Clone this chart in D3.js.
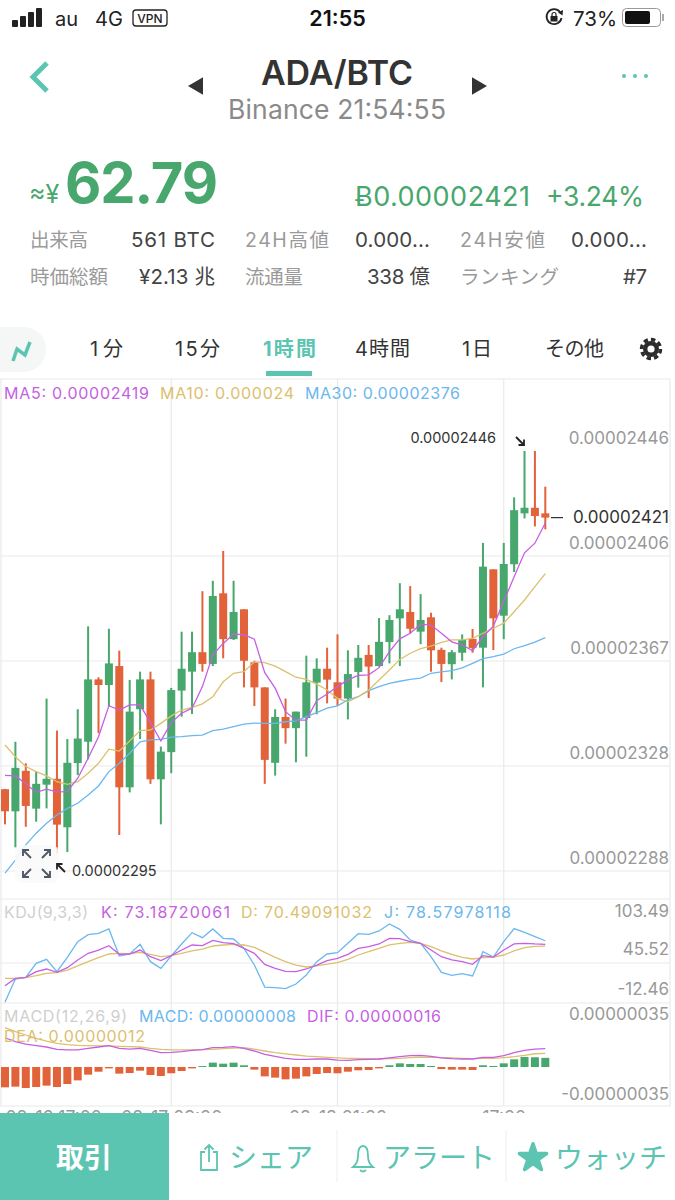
<!DOCTYPE html>
<html lang="ja">
<head>
<meta charset="utf-8">
<title>ADA/BTC</title>
<script src="https://cdn.jsdelivr.net/npm/d3@7"></script>
<style>
  html, body { margin: 0; padding: 0; background: #fff; }
  svg { display: block; }
  text { font-family: Inter, "Noto Sans CJK JP", "DejaVu Sans", sans-serif; }
  .axis .domain, .axis .tick line { display: none; }
</style>
</head>
<body>
<script>
// Hourly candles in satoshi (1e-8 BTC)
const opens = [2319.1,2310.8,2326,2311.8,2320.8,2323,2304.8,2328.9,2336.9,2360.3,2358.2,2365.3,2319.8,2349.1,2360.3,2322.8,2333,2356.1,2363.2,2370.5,2366.1,2392.6,2375.4,2386.6,2366.7,2357.3,2329,2346.2,2342,2345.8,2359.1,2364.3,2359.2,2353.1,2363.1,2369.5,2365.3,2374.3,2383.2,2385.6,2378.2,2383.6,2371.4,2366,2370.3,2375.5,2372.2,2401.6,2384.2,2403.5,2422.6,2424.7,2422.6];
const highs = [2319.2,2336.9,2328.8,2325.7,2353.1,2341.1,2337.9,2349.1,2380.2,2361.1,2379.3,2371.1,2360.1,2363.2,2363.2,2335.1,2357.1,2378.2,2378.2,2393.4,2397.3,2408.5,2397.3,2386.6,2367.3,2357.3,2349.1,2353.1,2348.2,2369.2,2368.2,2372.2,2377.2,2371.2,2373.2,2373.2,2383.3,2384.4,2396.4,2395.3,2392.3,2385.3,2372.2,2371.3,2377.2,2379.2,2411.5,2401.6,2411.5,2428.6,2446,2446,2432.6];
const lows = [2305.9,2297.3,2305,2306.9,2311.9,2295,2295.5,2324.4,2330.3,2340.1,2350.1,2301.9,2317.9,2337.9,2321.1,2305.9,2325.1,2346.3,2347.3,2363.2,2365.3,2368.2,2375.1,2357.3,2350.3,2321.1,2324.2,2336.2,2329.2,2331.3,2347.2,2351.3,2350.4,2345.3,2357.2,2353.3,2365.1,2366.3,2365.3,2377.6,2373.5,2363.2,2359.3,2360.3,2367.3,2370.3,2357.3,2371.3,2375.4,2400.6,2420.7,2417.7,2416.6];
const closes = [2310.8,2327.1,2312.8,2321.1,2323,2305.8,2329,2338.1,2360.3,2358.2,2366.3,2319.8,2348.2,2360.3,2322.8,2333.2,2356.3,2364.3,2370.5,2366.1,2391.6,2375.4,2385.6,2367.3,2357.3,2330.1,2346.2,2342,2348.2,2359.2,2364.3,2360.2,2353.1,2362.3,2368.4,2365.1,2374.4,2382.6,2386.6,2379.3,2382.6,2371.2,2366.1,2370.5,2375.1,2372.1,2402.6,2383.2,2403.6,2423.8,2424.7,2421.6,2421];

// Moving averages
const ma5 = [2324.3,2324.1,2321.1,2317.9,2319.1,2318.1,2318.2,2323.2,2330.7,2338.8,2350.4,2348.8,2350.7,2350.7,2344.1,2337.2,2344.1,2347.6,2349.5,2357.6,2369.5,2373.8,2377.3,2377.1,2375.4,2362.8,2357,2348.2,2345,2345,2352.3,2354.8,2357.6,2360.1,2361.8,2362,2364.7,2370.7,2375.5,2377.6,2381,2380.7,2377.6,2374.4,2373.2,2371.1,2376.3,2380.3,2389.5,2398.8,2407.8,2411.4,2419];
const ma10 = [2335.7,2331.3,2327.6,2325.7,2324.1,2321.9,2320.9,2321.9,2325.1,2328.8,2334.1,2333.4,2337.2,2341.1,2341.3,2343.8,2346.6,2348.8,2349.8,2351.1,2353.8,2359.4,2362.6,2363.2,2366.9,2366.6,2365.3,2363.2,2361.1,2360.3,2358.5,2356.3,2353.2,2351.9,2353.8,2356.3,2360.1,2363.8,2367.8,2370.1,2371.8,2372.8,2374.2,2375.1,2375.1,2375.7,2377.6,2379.5,2381.4,2385.7,2390.1,2395.1,2400];
const ma30 = [2287.6,2292.5,2298.2,2302.6,2306.3,2309.4,2311.9,2313.8,2316.9,2320.3,2325.7,2328.8,2332.6,2336.9,2337.6,2337.8,2338.6,2338.8,2339.2,2339.4,2341.1,2341.6,2342.6,2343.5,2343.9,2343.8,2343.8,2344.4,2344.7,2346.3,2347.8,2349.5,2350.4,2352.6,2353.8,2356.1,2357.6,2358.8,2359.6,2360.3,2360.8,2362.6,2363.1,2363.6,2364.6,2366.3,2368.1,2368.8,2369.8,2371.8,2373,2374.3,2376];

// KDJ oscillator
const kdjK = [11.8,22.7,24.2,32.6,36.6,31.6,38.6,50,59.9,64.8,71.3,58.4,58.9,64.8,54.9,49,56.4,64.8,72.3,71.3,79.2,75.7,74.3,67.3,59.9,43.5,37.6,33.1,32.6,36.6,42.5,49,52.5,58.4,67.3,69.8,73.8,82.2,81.7,77.2,74.8,64.8,54.9,50,47.5,43.5,56.4,54.4,64.8,73.8,74.8,73.8,73.19];
const kdjD = [22.7,22.7,23.7,26.7,30.2,31.2,35.1,41.1,47.5,53.4,58.9,59.9,59.4,61.4,58.4,54.9,56.4,59.9,63.4,66.3,70.8,72.3,73.3,72.3,68.8,61.4,53.9,47.5,42.5,39.6,41.1,44,46,51,57.4,62.4,67.3,72.3,74.8,76.2,74.8,69.8,63.4,58.4,53.9,51.5,53.4,54.4,57.4,63.4,68.3,70.3,70.49];
const kdjJ = [-12.46,21.7,24.2,45,51,32.6,53.9,77.2,87.6,89.6,96.1,55.9,58.9,73.3,47.5,37.6,55.9,73.8,90.6,83.2,96.1,82.2,81.2,67.3,42.5,9.8,8.9,7.4,14.3,27.7,47.5,58.9,60.9,74.8,89.1,88.1,93.1,103.49,95.6,79.7,74.8,54.9,31.6,27.2,29.7,26.2,62.4,54.4,77.2,96.6,91.1,84.7,78.58];

// MACD in satoshi
const macdBars = [-17.8,-17.2,-18.4,-17.5,-16.3,-17.5,-14.9,-11.7,-6.7,-4.1,-1.2,-5.8,-5.3,-3.2,-7,-7.9,-5.5,-3.5,-1.2,0.8,3.8,2.9,3.8,1.5,-2.3,-8.2,-9.3,-10.8,-10.2,-8.2,-6.1,-5.3,-5.5,-4.1,-2.9,-2.6,-1.2,1.5,3.2,2.6,2.6,0.9,-1.8,-2.3,-2.3,-2.6,1.5,0.9,3.2,6.7,8.8,8.5,8];
const dif = [25.6,22.2,20.1,18.7,17.5,15.4,14.9,14.9,16.3,17.5,18.7,16.3,15.7,16.3,14.6,12.5,12.8,13.4,14.6,15.2,16.9,17.2,17.8,16.3,14,11.1,9.3,7.6,6.7,6.7,7,7,6.1,5.8,6.4,6.7,7,7.9,9,9.9,10.2,9.3,7.9,7.3,7,7,8.4,8.4,9.9,12.5,14.6,15.7,16];
const dea = [34.4,30.9,28,25.1,22.7,20.7,19.5,18.9,18.7,18.4,18.4,18.1,17.8,17.5,16.3,15.4,14.9,14.9,14.9,15.2,15.4,16,16.6,16.9,15.7,14,12.5,11.4,10.5,9.6,9,8.4,7.9,7.6,7.6,7.3,7,7.3,7.6,8.2,8.7,8.4,8.2,7.9,7.6,7.3,7.6,7.6,8.2,9,10.2,11.6,12];

// Axis ticks
const priceTicks = [2446, 2406.6, 2367.2, 2327.8, 2288.4];
const priceTickLabels = ["0.00002446", "0.00002406", "0.00002367", "0.00002328", "0.00002288"];
const kdjTicks = [103.49, 45.52, -12.46];
const macdTicks = [35, -35];
const macdTickLabels = ["0.00000035", "-0.00000035"];
const timeTicks = [0, 16, 32, 48];
const timeTickLabels = ["08-16 17:00", "08-17 09:00", "08-18 01:00", "17:00"];

// Header strings
const statsTop = ["出来高", "561 BTC", "24H高値", "0.000...", "24H安値", "0.000..."];
const statsBottom = ["時価総額", "¥2.13 兆", "流通量", "338 億", "ランキング", "#7"];
const tabLabels = ["1分", "15分", "1時間", "4時間", "1日", "その他"];

const GREEN = "#47a76c", RED = "#e2623a", TEAL = "#5cc5b1";
const PURPLE = "#c65fe2", GOLD = "#dcc06e", BLUE = "#6bb7ee";
const GREY = "#9a9a9a", DARK = "#444";
const W = 675, H = 1200, candleCount = opens.length;

const svg = d3.select("body").append("svg").attr("width", W).attr("height", H);

// Places one text; `len` fixes its advance width when given.
function label(parent, x, y, str, size, fill, anchor = "start", weight = 400, len = null) {
  const t = parent.append("text").attr("x", x).attr("y", y)
    .attr("font-size", size).attr("fill", fill)
    .attr("text-anchor", anchor).attr("font-weight", weight).text(str);
  if (len) t.attr("textLength", len);
  return t;
}

// Scales
const x = d3.scaleLinear().domain([0, candleCount - 1]).range([5, 545.3]);
const yPrice = d3.scaleLinear().domain([2288.4, 2446]).range([871, 451]);
const yKdj = d3.scaleLinear().domain([-12.46, 103.49]).range([1002, 924]);
const yMacd = d3.scaleLinear().domain([-35, 35]).range([1107, 1027]);

// Status bar
const status = svg.append("g");
status.selectAll("rect.sig").data([0, 1, 2, 3]).join("rect").attr("class", "sig")
  .attr("x", d => 12 + d * 8).attr("width", 6)
  .attr("y", d => 20 - d * 4).attr("height", d => 7 + d * 4).attr("rx", 1).attr("fill", "#222");
label(status, 55, 26, "au", 20, "#222");
label(status, 95, 26, "4G", 20, "#222");
status.append("rect").attr("x", 133).attr("y", 10).attr("width", 34).attr("height", 16).attr("rx", 3)
  .attr("fill", "none").attr("stroke", "#222").attr("stroke-width", 1.3);
label(status, 150, 23, "VPN", 12, "#222", "middle", 500);
label(status, 337.5, 26, "21:55", 21.5, "#111", "middle", 600);
status.append("path").attr("d", "M560 12 A7.5 7.5 0 1 0 561.5 18").attr("fill", "none").attr("stroke", "#222").attr("stroke-width", 1.8);
status.append("path").attr("d", "M558 12.5 L563 10 L562.5 15.5 Z").attr("fill", "#222");
status.append("rect").attr("x", 550.5).attr("y", 16).attr("width", 7).attr("height", 5.5).attr("fill", "#222");
status.append("path").attr("d", "M552 16 V14.5 A2 2 0 0 1 556 14.5 V16").attr("fill", "none").attr("stroke", "#222").attr("stroke-width", 1.2);
label(status, 573, 26, "73%", 20.5, "#222");
status.append("rect").attr("x", 622.5).attr("y", 8.5).attr("width", 38).attr("height", 18).attr("rx", 4).attr("fill", "none").attr("stroke", "#999");
status.append("rect").attr("x", 625).attr("y", 11).attr("width", 25).attr("height", 13).attr("rx", 2).attr("fill", "#111");
status.append("rect").attr("x", 662).attr("y", 14).attr("width", 2).attr("height", 7).attr("fill", "#aaa");

// Navigation header
svg.append("path").attr("d", "M47 63 L33 77 L47 91").attr("fill", "none").attr("stroke", TEAL).attr("stroke-width", 5);
label(svg, 337, 85, "ADA/BTC", 34, "#333", "middle", 600, 152);
label(svg, 337, 119, "Binance 21:54:55", 26.5, "#8a8a8a", "middle", 400, 218);
svg.append("path").attr("d", d3.symbol(d3.symbolTriangle, 130)).attr("transform", "translate(198,86) rotate(-90)").attr("fill", "#333");
svg.append("path").attr("d", d3.symbol(d3.symbolTriangle, 130)).attr("transform", "translate(477,86) rotate(90)").attr("fill", "#333");
svg.selectAll("circle.dot").data([624, 635, 646]).join("circle").attr("class", "dot")
  .attr("cx", d => d).attr("cy", 76).attr("r", 2).attr("fill", TEAL);

// Price block
label(svg, 29, 203, "≈¥", 25, GREEN);
label(svg, 65, 203, "62.79", 56, GREEN, "start", 700, 153);
label(svg, 355, 206, "Ƀ0.00002421", 27, GREEN, "start", 400, 175);
label(svg, 546, 206, "+3.24%", 26.5, GREEN, "start", 400, 98);

// Two rows of market figures: caption, value, caption, value, caption, value
const statX = [30, 215, 245, 430, 460, 647];
const statTopWidths = [58, 84, 84, 75, 85, 76];
const statBottomWidths = [78, 76, 58, 63, 99, 24];
function statRow(strings, y, widths) {
  strings.forEach((s, i) => {
    const isValue = i % 2 === 1;
    label(svg, statX[i], y, s, isValue ? 20.5 : 19.5, isValue ? DARK : GREY, isValue ? "end" : "start", 400, widths[i]);
  });
}
statRow(statsTop, 247, statTopWidths);
statRow(statsBottom, 284, statBottomWidths);

// Interval tabs
const tabCentres = [106.5, 197.5, 289.5, 382.5, 477, 574.5];
const tabWidths = [33, 45, 53, 55, 30, 59];
svg.append("rect").attr("x", -22).attr("y", 327).attr("width", 68).attr("height", 45).attr("rx", 22).attr("fill", "#f5f6f6");
svg.append("path").attr("d", "M13 361 L17 349 L25 355 L30 342").attr("fill", "none").attr("stroke", TEAL).attr("stroke-width", 3.5);
tabLabels.forEach((s, i) => label(svg, tabCentres[i], 356, s, 20, i === 2 ? TEAL : "#333", "middle", i === 2 ? 700 : 400, tabWidths[i]));
svg.append("rect").attr("x", 266).attr("y", 371).attr("width", 46).attr("height", 5).attr("fill", TEAL);
svg.append("circle").attr("cx", 651).attr("cy", 349).attr("r", 8).attr("fill", "#2d2d2d");
svg.append("circle").attr("cx", 651).attr("cy", 349).attr("r", 9.5).attr("fill", "none").attr("stroke", "#2d2d2d").attr("stroke-width", 3.5).attr("stroke-dasharray", "4.4 3");
svg.append("circle").attr("cx", 651).attr("cy", 349).attr("r", 3.6).attr("fill", "#fff");

// Pane frames and gridlines
const grid = svg.append("g").attr("stroke", "#e9e9e9").attr("stroke-width", 1.2);
[379, 899, 1003, 1106].forEach(y => grid.append("line").attr("x1", 0).attr("x2", 670).attr("y1", y).attr("y2", y));
grid.selectAll("line.px").data(priceTicks.slice(1)).join("line").attr("class", "px")
  .attr("x1", 0).attr("x2", 670).attr("y1", d => yPrice(d)).attr("y2", d => yPrice(d));
grid.append("line").attr("x1", 0).attr("x2", 670).attr("y1", yKdj(45.52)).attr("y2", yKdj(45.52));
grid.selectAll("line.tx").data(timeTicks.slice(1)).join("line").attr("class", "tx")
  .attr("x1", d => x(d)).attr("x2", d => x(d)).attr("y1", 379).attr("y2", 1106);
[1, 670].forEach(v => grid.append("line").attr("x1", v).attr("x2", v).attr("y1", 379).attr("y2", 1106));

// Right-hand value axes
function rightAxis(scale, ticks, labels, dy, fill = "#999") {
  const g = svg.append("g").attr("class", "axis").attr("transform", "translate(669,0)")
    .call(d3.axisRight(scale).tickValues(ticks).tickSize(0).tickPadding(0).tickFormat((d, i) => labels[i]));
  g.selectAll("text").attr("font-size", 17).attr("fill", fill).attr("text-anchor", "end")
    .attr("dy", dy).style("font-family", null);
  g.attr("font-family", null);
}
rightAxis(yPrice, priceTicks, priceTickLabels, -8);
rightAxis(yKdj, kdjTicks, kdjTicks.map(d => d.toFixed(2)), -8);
rightAxis(yMacd, macdTicks, macdTickLabels, -8);

// Candles
const candles = d3.range(candleCount).map(i => ({ i, o: opens[i], h: highs[i], l: lows[i], c: closes[i] }));
const isUp = d => d.c >= d.o;
const candleG = svg.append("g").selectAll("g").data(candles).join("g").attr("fill", d => isUp(d) ? GREEN : RED);
candleG.append("rect").attr("x", d => x(d.i) - 1).attr("width", 2)
  .attr("y", d => yPrice(d.h)).attr("height", d => yPrice(d.l) - yPrice(d.h));
candleG.append("rect").attr("x", d => x(d.i) - 4).attr("width", 8)
  .attr("y", d => yPrice(Math.max(d.o, d.c))).attr("height", d => Math.abs(yPrice(d.o) - yPrice(d.c)));

// Moving-average and oscillator lines
function drawLine(values, scale, colour, width = 1.3) {
  svg.append("path").datum(values)
    .attr("d", d3.line().x((d, i) => x(i)).y(d => scale(d)))
    .attr("fill", "none").attr("stroke", colour).attr("stroke-width", width);
}
drawLine(ma30, yPrice, BLUE);
drawLine(ma10, yPrice, GOLD);
drawLine(ma5, yPrice, PURPLE);
drawLine(kdjJ, yKdj, BLUE);
drawLine(kdjD, yKdj, GOLD);
drawLine(kdjK, yKdj, PURPLE);

// MACD histogram
svg.append("g").selectAll("rect").data(macdBars).join("rect")
  .attr("x", (d, i) => x(i) - 4).attr("width", 8)
  .attr("y", d => yMacd(Math.max(d, 0))).attr("height", d => Math.abs(yMacd(d) - yMacd(0)))
  .attr("fill", d => d >= 0 ? GREEN : RED);
drawLine(dea, yMacd, GOLD);
drawLine(dif, yMacd, PURPLE);

// Indicator legends
label(svg, 4, 398.5, "MA5: 0.00002419", 16, PURPLE, "start", 400, 145);
label(svg, 160, 398.5, "MA10: 0.000024", 16, GOLD, "start", 400, 134);
label(svg, 305, 398.5, "MA30: 0.00002376", 16, BLUE, "start", 400, 155);
label(svg, 4, 918, "KDJ(9,3,3)", 16, "#cfcfcf", "start", 400, 84);
label(svg, 101, 918, "K: 73.18720061", 16, PURPLE, "start", 400, 129);
label(svg, 241, 918, "D: 70.49091032", 16, GOLD, "start", 400, 131);
label(svg, 384, 918, "J: 78.57978118", 16, BLUE, "start", 400, 127);
label(svg, 4, 1021.5, "MACD(12,26,9)", 16, "#cfcfcf", "start", 400, 123);
label(svg, 139, 1021.5, "MACD: 0.00000008", 16, BLUE, "start", 400, 157);
label(svg, 307, 1021.5, "DIF: 0.00000016", 16, PURPLE, "start", 400, 134);
label(svg, 4, 1041.5, "DEA: 0.00000012", 16, GOLD, "start", 400, 141);

// Expand-chart control
svg.append("rect").attr("x", 15).attr("y", 845).attr("width", 44).attr("height", 38).attr("rx", 8).attr("fill", "#fafafa").attr("opacity", 0.9);
svg.append("path")
  .attr("d", "M23 850 L31 858 M23 856 V850 H29 M50 850 L42 858 M44 850 H50 V856 M23 877 L31 869 M23 871 V877 H29 M50 877 L42 869 M44 877 H50 V871")
  .attr("fill", "none").attr("stroke", "#4f5866").attr("stroke-width", 1.9);

// High, low and last-price markers
label(svg, 496, 443, "0.00002446", 14.5, "#333", "end");
svg.append("path").attr("d", "M516 437 L524 445 M524 439.5 V445 H518.5").attr("fill", "none").attr("stroke", "#222").attr("stroke-width", 1.8);
label(svg, 72, 876, "0.00002295", 14.5, "#333");
svg.append("path").attr("d", "M65 872 L57 864 M57 869.5 V864 H62.5").attr("fill", "none").attr("stroke", "#222").attr("stroke-width", 1.8);
svg.append("line").attr("x1", 551).attr("x2", 563).attr("y1", yPrice(2421)).attr("y2", yPrice(2421)).attr("stroke", "#333").attr("stroke-width", 1.2);
label(svg, 669, 523, "0.00002421", 17, "#333", "end");

// Time axis, partly hidden by the action bar
const timeAxis = svg.append("g").attr("class", "axis").attr("transform", "translate(0,1106)")
  .call(d3.axisBottom(x).tickValues(timeTicks).tickSize(0).tickPadding(5).tickFormat((d, i) => timeTickLabels[i]));
timeAxis.selectAll("text").attr("font-size", 17.5).attr("fill", "#999").attr("dy", "0.71em").style("font-family", null);
timeAxis.attr("font-family", null);
timeAxis.select(".tick text").attr("text-anchor", "start").attr("x", 0);

// Action bar
svg.append("rect").attr("x", 0).attr("y", 1113).attr("width", W).attr("height", 87).attr("fill", "#fff");
svg.append("rect").attr("x", 0).attr("y", 1113).attr("width", 169).attr("height", 87).attr("fill", "#5cc5b1");
label(svg, 84, 1168, "取引", 28, "#fff", "middle", 700);
label(svg, 229, 1168, "シェア", 28, TEAL);
label(svg, 383, 1168, "アラート", 28, TEAL);
label(svg, 555, 1168, "ウォッチ", 28, TEAL);
[337, 506].forEach(v => svg.append("line").attr("x1", v).attr("x2", v).attr("y1", 1130).attr("y2", 1182).attr("stroke", "#eee"));
svg.append("path").attr("d", "M205 1152 H201 V1170 H217 V1152 H213 M209 1162 V1145 M204.5 1149.5 L209 1145 L213.5 1149.5")
  .attr("fill", "none").attr("stroke", TEAL).attr("stroke-width", 1.8);
svg.append("path").attr("d", "M353 1167 Q358 1163 358 1156 Q358 1146 363 1146 Q368 1146 368 1156 Q368 1163 373 1167 Z M360 1170 Q363 1173 366 1170")
  .attr("fill", "none").attr("stroke", TEAL).attr("stroke-width", 1.8);
svg.append("path").attr("d", d3.symbol(d3.symbolStar, 230)).attr("transform", "translate(533,1158)")
  .attr("fill", TEAL).attr("stroke", TEAL).attr("stroke-width", 3.5).attr("stroke-linejoin", "round");
</script>
</body>
</html>
